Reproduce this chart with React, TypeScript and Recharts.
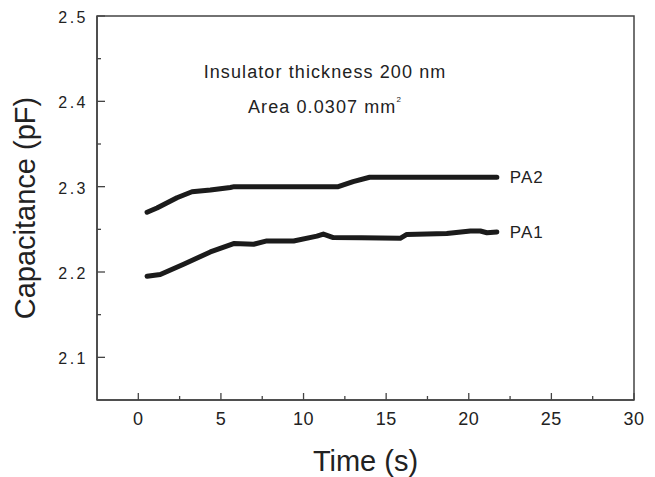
import React from "react";
import {
  LineChart,
  Line,
  XAxis,
  YAxis,
  ReferenceArea,
  Label,
} from "recharts";

// Time (s) vs capacitance (pF)
const pa2Time = [0.53, 1.13, 2.34, 3.25, 4.36, 5.57, 5.8, 8, 10, 12.1, 13.0, 14.0, 16, 18, 20, 21.7];
const pa2Cap = [2.27, 2.275, 2.287, 2.294, 2.296, 2.299, 2.3, 2.3, 2.3, 2.3, 2.306, 2.311, 2.311, 2.311, 2.311, 2.311];

const pa1Time = [0.53, 1.33, 2.74, 4.36, 5.77, 6.98, 7.78, 9.4, 10.81, 11.2, 11.8, 13.5, 15.85, 16.25, 18.67, 19.1, 20.1, 20.7, 21.1, 21.7];
const pa1Cap = [2.195, 2.197, 2.209, 2.2235, 2.2333, 2.2325, 2.2364, 2.2364, 2.242, 2.2445, 2.2403, 2.24, 2.2395, 2.244, 2.245, 2.246, 2.248, 2.248, 2.246, 2.247];

const xTicks = [0, 2.5, 5, 7.5, 10, 12.5, 15, 17.5, 20, 22.5, 25, 27.5, 30];
const yTicks = [2.1, 2.15, 2.2, 2.25, 2.3, 2.35, 2.4, 2.45, 2.5];
const xMajor = [0, 5, 10, 15, 20, 25, 30];
const yMajor = [2.1, 2.2, 2.3, 2.4, 2.5];

const pa2 = pa2Time.map((t, i) => ({ t, c: pa2Cap[i] }));
const pa1 = pa1Time.map((t, i) => ({ t, c: pa1Cap[i] }));

const FONT = "'Liberation Sans', Arial, sans-serif";
const AXIS = "#444";
const INK = "#1b1b1b";

const XTick = (props: any) => {
  const { x, y, payload } = props;
  const major = xMajor.includes(payload.value);
  return (
    <g>
      <line x1={x} x2={x} y1={y} y2={y - (major ? 7 : 4)} stroke={AXIS} strokeWidth={1.3} />
      {major && (
        <text x={x} y={y + 25} textAnchor="middle" fontSize={18} letterSpacing={0.5} fill="#222" fontFamily={FONT}>
          {payload.value}
        </text>
      )}
    </g>
  );
};

const YTick = (props: any) => {
  const { x, y, payload } = props;
  const major = yMajor.some((v) => Math.abs(v - payload.value) < 1e-6);
  return (
    <g>
      <line x1={x} x2={x + (major ? 8 : 4)} y1={y} y2={y} stroke={AXIS} strokeWidth={1.3} />
      {major && (
        <text x={x - 9} y={y + 7} textAnchor="end" fontSize={16} letterSpacing={2.5} fill="#222" fontFamily={FONT}>
          {payload.value.toFixed(1)}
        </text>
      )}
    </g>
  );
};

const endLabel = (name: string, n: number) => (props: any) => {
  const { x, y, index } = props;
  if (index !== n - 1) return null;
  return (
    <text x={x + 13} y={y + 6} fontSize={17} fill="#222" fontFamily={FONT} letterSpacing={1}>
      {name}
    </text>
  );
};

export default function App() {
  return (
    <div style={{ position: "absolute", left: 0, top: 0, width: 655, height: 477, background: "#fff" }}>
      <LineChart width={655} height={477} margin={{ top: 16, right: 21, left: 0, bottom: 0 }}>
        <XAxis
          type="number"
          dataKey="t"
          domain={[-2.5, 30]}
          ticks={xTicks}
          interval={0}
          allowDataOverflow
          height={77}
          tickSize={0}
          tickMargin={0}
          tickLine={false}
          axisLine={{ stroke: AXIS, strokeWidth: 1.5 }}
          tick={<XTick />}
        >
          <Label
            value="Time (s)"
            position="insideBottom"
            offset={6}
            style={{ fontSize: 29, fill: "#222", fontFamily: FONT }}
          />
        </XAxis>
        <YAxis
          type="number"
          dataKey="c"
          domain={[2.05, 2.5]}
          ticks={yTicks}
          interval={0}
          allowDataOverflow
          width={97}
          tickSize={0}
          tickMargin={0}
          tickLine={false}
          axisLine={{ stroke: AXIS, strokeWidth: 1.5 }}
          tick={<YTick />}
        >
          <Label
            value="Capacitance (pF)"
            angle={-90}
            position="insideLeft"
            offset={25}
            style={{ fontSize: 29, fill: "#222", fontFamily: FONT, textAnchor: "middle" }}
          />
        </YAxis>
        <ReferenceArea x1={-2.5} x2={30} y1={2.05} y2={2.5} fill="none" stroke={AXIS} strokeWidth={1.5} />
        <Line
          data={pa2}
          dataKey="c"
          type="linear"
          stroke={INK}
          strokeWidth={5}
          strokeLinecap="round"
          strokeLinejoin="round"
          dot={false}
          isAnimationActive={false}
          label={endLabel("PA2", pa2.length)}
        />
        <Line
          data={pa1}
          dataKey="c"
          type="linear"
          stroke={INK}
          strokeWidth={5}
          strokeLinecap="round"
          strokeLinejoin="round"
          dot={false}
          isAnimationActive={false}
          label={endLabel("PA1", pa1.length)}
        />
      </LineChart>
      <div
        style={{
          position: "absolute",
          left: 0,
          width: 650,
          top: 62,
          textAlign: "center",
          fontFamily: FONT,
          fontSize: 18,
          letterSpacing: 1.1,
          color: "#222",
        }}
      >
        Insulator thickness 200 nm
      </div>
      <div
        style={{
          position: "absolute",
          left: 0,
          width: 650,
          top: 97,
          textAlign: "center",
          fontFamily: FONT,
          fontSize: 18,
          letterSpacing: 1.1,
          color: "#222",
        }}
      >
        Area 0.0307 mm
        <span style={{ fontSize: 8, verticalAlign: "top", position: "relative", top: -2 }}>2</span>
      </div>
    </div>
  );
}
